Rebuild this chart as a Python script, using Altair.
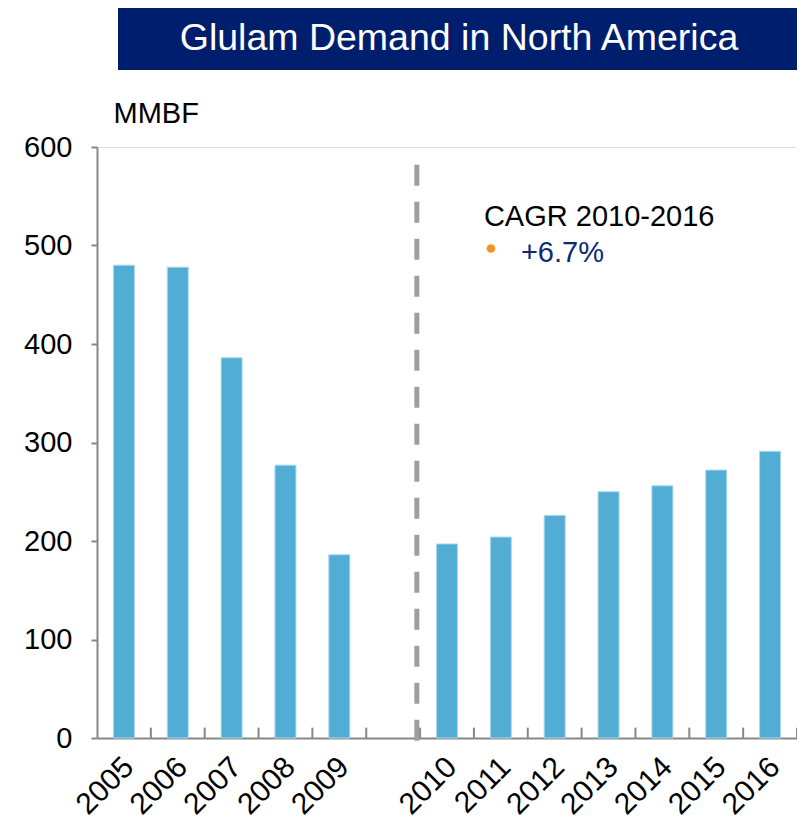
import altair as alt
import pandas as pd

categories = ["2005", "2006", "2007", "2008", "2009", "gap",
              "2010", "2011", "2012", "2013", "2014", "2015", "2016"]
years = ["2005", "2006", "2007", "2008", "2009",
         "2010", "2011", "2012", "2013", "2014", "2015", "2016"]
demand = [480, 478, 386, 277, 186, 197, 204, 226, 250, 256, 272, 291]

title_text = "Glulam Demand in North America"
y_unit = "MMBF"
cagr_label = "CAGR 2010-2016"
cagr_value = "+6.7%"

FONT = "Liberation Sans"
AXIS_GRAY = "#878787"
BAR_BLUE = "#52ADD5"
NAVY = "#001E6E"

W, H = 700, 591

bars_df = pd.DataFrame({"cat": years, "value": demand})
ticks_df = pd.DataFrame({"cat": categories[1:]})
end_df = pd.DataFrame({"cat": [categories[-1]]})
one = pd.DataFrame({"k": [0]})

xscale = alt.Scale(domain=categories, paddingInner=0, paddingOuter=0)
yscale = alt.Scale(domain=[0, 600])

x_axis = alt.Axis(
    title=None, ticks=False, labelAngle=-45, labelAlign="right",
    labelBaseline="middle", labelFontSize=30, labelFont=FONT,
    labelColor="black", labelPadding=24, labelOffset=5,
    domainColor=AXIS_GRAY, domainWidth=2,
    labelExpr="datum.value == 'gap' ? '' : datum.value",
)
y_axis = alt.Axis(
    title=y_unit, titleAngle=0, titleAlign="left", titleBaseline="alphabetic",
    titleX=16, titleY=-25, titleFontSize=29, titleFont=FONT,
    titleFontWeight="normal", titleColor="black",
    values=[0, 100, 200, 300, 400, 500, 600], labelFontSize=29,
    labelFont=FONT, labelColor="black", labelPadding=19, tickSize=6,
    tickColor=AXIS_GRAY, tickWidth=2, domainColor=AXIS_GRAY, domainWidth=2,
    grid=False,
)

bars = alt.Chart(bars_df).mark_bar(
    width={"band": 0.39}, color=BAR_BLUE, stroke="#A9D9EE", strokeWidth=1
).encode(
    x=alt.X("cat:N", scale=xscale, axis=x_axis, sort=categories),
    y=alt.Y("value:Q", scale=yscale, axis=y_axis),
)

tick_marks = alt.Chart(ticks_df).mark_rule(color=AXIS_GRAY, strokeWidth=2).encode(
    x=alt.X("cat:N", scale=xscale, bandPosition=0),
    y=alt.datum(0),
    y2=alt.datum(10.5),
)
end_tick = alt.Chart(end_df).mark_rule(color=AXIS_GRAY, strokeWidth=2).encode(
    x=alt.X("cat:N", scale=xscale, bandPosition=1),
    y=alt.datum(0),
    y2=alt.datum(10.5),
)

divider = alt.Chart(pd.DataFrame({"cat": ["gap"]})).mark_rule(
    color="#9E9E9E", strokeWidth=5, strokeDash=[21, 16]
).encode(
    x=alt.X("cat:N", scale=xscale, bandPosition=0.94),
    y=alt.datum(582),
    y2=alt.datum(-4),
)

ann_df = pd.DataFrame({"cat": ["2011"]})
cagr_title = alt.Chart(ann_df).mark_text(
    text=cagr_label, align="left", baseline="alphabetic", fontSize=29,
    font=FONT, color="black", dx=10
).encode(x=alt.X("cat:N", scale=xscale, bandPosition=0), y=alt.datum(520))
cagr_val = alt.Chart(ann_df).mark_text(
    text=cagr_value, align="left", baseline="alphabetic", fontSize=29,
    font=FONT, color="#0A2A78", dx=47
).encode(x=alt.X("cat:N", scale=xscale, bandPosition=0), y=alt.datum(483))
cagr_dot = alt.Chart(ann_df).mark_circle(
    color="#F7931E", size=75, opacity=1, xOffset=17
).encode(x=alt.X("cat:N", scale=xscale, bandPosition=0), y=alt.datum(497))

title_box = alt.Chart(one).mark_rect(color=NAVY).encode(
    x=alt.value(21), x2=alt.value(W), y=alt.value(-139), y2=alt.value(-77)
)
title_txt = alt.Chart(one).mark_text(
    text=title_text, fontSize=37.5, font=FONT, color="white",
    align="center", baseline="middle"
).encode(x=alt.value(362), y=alt.value(-108))

chart = alt.layer(
    bars, tick_marks, end_tick, divider, cagr_title, cagr_val, cagr_dot,
    title_box, title_txt
).properties(
    width=W, height=H,
    autosize=alt.AutoSizeParams(type="none"),
    padding={"left": 89, "top": 139, "right": 0, "bottom": 81},
).configure_view(stroke=None).configure(background="white")

chart.save("out.html", embed_options={"renderer": "svg", "actions": False})
